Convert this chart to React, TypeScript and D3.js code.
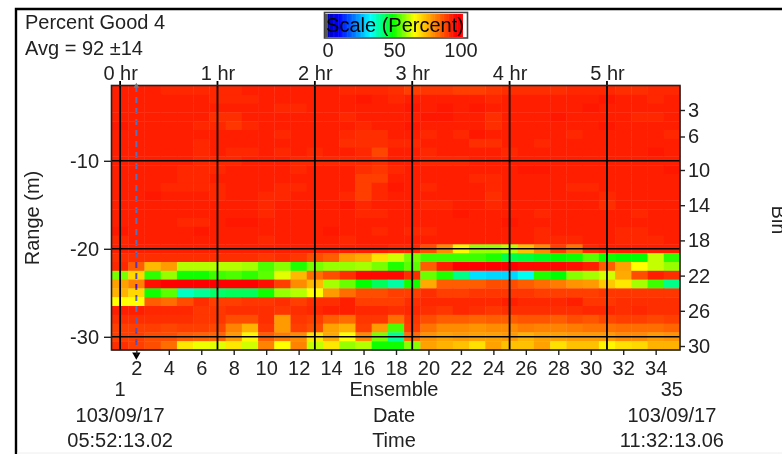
import React, { useEffect, useRef } from "react";
import { select, scaleLinear, axisBottom, axisLeft, axisRight, axisTop, range, symbol, symbolTriangle } from "d3";

// percent good per bin, ensembles 1..35
const bin1 = [96,96,96,95,95,95,95,95,96,96,96,96,96,96,95,95,95,94,92,93,93,92,92,93,94,94,94,94,95,95,95,94,94,95,95];
const bin2 = [96,96,96,96,96,96,95,95,95,96,96,96,96,96,96,97,96,95,96,96,96,96,96,95,96,96,96,96,96,96,97,96,96,95,96];
const bin3 = [96,96,96,96,96,96,96,96,96,96,95,95,96,96,96,96,96,96,97,96,97,96,97,96,96,96,96,96,96,97,96,96,96,96,96];
const bin4 = [96,96,96,96,96,96,94,94,96,96,96,96,96,96,95,96,96,96,96,97,97,96,96,94,96,96,96,97,96,96,96,96,95,95,96];
const bin5 = [97,96,96,96,96,95,95,93,95,96,96,96,96,96,96,95,96,96,97,96,96,96,96,94,96,96,96,96,96,96,97,96,96,96,96];
const bin6 = [96,96,96,96,96,96,96,96,96,96,95,96,96,96,95,94,94,96,96,95,96,95,97,96,96,96,96,96,95,96,96,96,96,96,95];
const bin7 = [96,96,96,96,96,95,96,96,96,96,96,96,96,96,94,94,94,95,95,96,96,96,94,94,96,96,95,96,96,96,96,96,96,96,96];
const bin8 = [96,96,96,96,96,95,96,95,95,96,95,96,95,96,96,95,91,96,96,95,96,96,96,96,95,96,96,96,96,96,96,96,96,97,96];
const bin9 = [96,96,96,96,96,95,95,95,96,96,96,95,95,95,95,95,94,96,96,95,95,95,96,96,96,96,96,96,96,96,96,96,96,96,96];
const bin10 = [96,96,96,96,95,95,95,96,96,96,96,95,96,96,96,94,93,95,96,96,96,96,96,96,96,97,97,96,96,96,96,96,96,96,97];
const bin11 = [96,96,96,96,95,95,96,96,96,96,96,96,96,96,96,92,92,96,96,96,96,96,95,95,96,96,96,96,96,96,96,96,96,96,96];
const bin12 = [96,96,96,95,95,95,95,96,96,96,95,95,96,96,96,92,95,97,96,95,96,96,96,95,96,96,96,96,95,95,96,96,96,96,96];
const bin13 = [96,96,97,96,96,96,95,96,96,95,95,96,96,96,95,92,95,96,96,96,96,96,96,94,96,96,96,96,96,96,95,96,96,96,96];
const bin14 = [96,96,96,96,96,96,96,96,96,95,96,96,96,96,97,95,96,96,96,95,95,96,96,95,96,96,96,96,96,96,94,96,96,96,96];
const bin15 = [96,96,96,96,96,96,96,96,96,95,96,96,96,96,96,95,95,96,96,96,96,97,96,96,96,96,95,96,96,96,96,96,95,96,96];
const bin16 = [96,96,96,96,95,95,96,97,97,96,96,96,96,96,96,96,96,96,96,96,96,96,96,96,97,96,96,96,96,96,96,96,96,96,96];
const bin17 = [97,96,96,96,96,97,96,96,96,96,96,96,96,97,96,96,95,96,95,95,96,96,96,96,96,96,95,96,96,96,96,95,95,96,96];
const bin18 = [95,96,96,96,96,96,96,96,96,95,96,96,96,96,95,96,96,96,96,96,96,96,96,96,96,96,95,95,95,96,96,95,95,95,96];
const bin19 = [96,96,96,96,96,96,96,96,96,96,96,96,96,96,96,96,96,95,95,90,82,68,60,60,62,75,82,92,85,95,96,96,96,96,96];
const bin20 = [94,94,94,94,94,94,94,94,94,93,94,93,90,88,80,78,71,64,58,54,54,54,54,52,45,46,48,50,51,56,51,50,50,63,53];
const bin21 = [95,88,76,80,62,62,62,62,61,55,59,52,58,60,60,61,58,52,56,88,96,100,100,100,100,99,99,99,98,96,88,79,67,63,60];
const bin22 = [58,72,53,60,51,51,54,55,53,56,65,76,86,90,94,99,99,99,94,57,52,41,30,29,29,34,52,50,59,61,64,78,90,96,94];
const bin23 = [79,83,98,100,100,100,100,100,100,98,92,82,76,61,57,50,44,39,51,78,88,88,88,90,90,88,86,84,81,80,74,70,61,54,41];
const bin24 = [77,72,51,56,37,40,43,44,44,51,60,62,67,80,86,90,90,92,92,94,92,92,93,93,93,93,92,92,92,92,93,93,93,93,93];
const bin25 = [67,67,88,86,90,94,92,92,93,93,94,92,94,94,96,92,92,92,94,95,95,95,95,95,96,95,95,95,96,93,93,94,94,94,94];
const bin26 = [96,96,95,95,95,93,93,94,94,94,93,94,95,96,96,95,95,94,95,94,93,95,94,93,94,94,94,94,94,95,95,94,95,94,94];
const bin27 = [94,94,94,94,94,93,93,90,90,94,80,93,92,88,86,93,93,86,93,90,88,88,87,88,88,89,89,88,90,89,91,92,92,91,92];
const bin28 = [92,92,92,91,92,92,91,83,77,93,80,92,90,79,77,92,80,55,92,85,82,82,81,82,82,84,83,83,84,85,85,86,86,86,87];
const bin29 = [92,92,90,90,88,87,87,80,68,88,84,82,70,78,67,82,58,40,86,81,79,80,79,79,80,77,79,79,80,80,80,82,82,80,81];
const bin30 = [94,92,90,86,70,66,65,70,64,83,67,83,63,70,60,62,51,51,59,79,77,75,71,79,75,75,79,71,75,75,68,71,72,77,77];
const percentGood = [bin1,bin2,bin3,bin4,bin5,bin6,bin7,bin8,bin9,bin10,bin11,bin12,bin13,bin14,bin15,bin16,bin17,bin18,bin19,bin20,bin21,bin22,bin23,bin24,bin25,bin26,bin27,bin28,bin29,bin30];

const ensembleTicks = [2,4,6,8,10,12,14,16,18,20,22,24,26,28,30,32,34];
const binTicks = [3,6,10,14,18,22,26,30];
const rangeTicks = [-10,-20,-30];
const hourTicks = [0,1,2,3,4,5];
const scaleTicks = [0,50,100];
const cursorEnsemble = 2;

const FONT = "'Liberation Sans', Arial, sans-serif";
const INK = "#222";

export default function App() {
  const ref = useRef<SVGSVGElement>(null);

  useEffect(() => {
    const svg = select(ref.current);
    svg.selectAll("*").remove();
    svg.attr("font-family", FONT).attr("font-size", 20).attr("fill", INK);

    const plot = { left: 112, right: 680, top: 86, bottom: 350 };
    const xScale = scaleLinear().domain([0.5, 35.5]).range([plot.left, plot.right]);
    const binScale = scaleLinear().domain([0.5, 30.5]).range([plot.top, plot.bottom]);
    // the bin ticks in the picture sit a little low near the top
    const binTickScale = scaleLinear().domain([3, 6, 10, 30]).range([110, 136.5, 170, 346]);
    const rangeScale = scaleLinear().domain([-1.5, -31.5]).range([plot.top, plot.bottom]);
    // 10 minutes per ensemble, starts at ensemble 1
    const hourScale = (h: number) => xScale(1 + h * 6);
    const color = scaleLinear<string>()
      .domain([0, 8, 33, 50, 67, 100])
      .range(["#0000c0", "#0000ff", "#00ffff", "#00ff00", "#ffff00", "#ff0000"])
      .clamp(true);
    const barScale = scaleLinear().domain([0, 100]).range([328, 456]);
    const barLabelScale = scaleLinear().domain([0, 100]).range([328, 461]);

    // panel frame
    svg.append("rect").attr("x", 0).attr("y", 0).attr("width", 782).attr("height", 454).attr("fill", "#fff");
    svg.append("path").attr("d", "M16,454V9H782").attr("fill", "none").attr("stroke", "#000").attr("stroke-width", 2.4);
    svg.append("line").attr("x1", 17).attr("x2", 782).attr("y1", 453).attr("y2", 453).attr("stroke", "#eee");

    // heat map
    const cw = xScale(1) - xScale(0);
    const ch = binScale(1) - binScale(0);
    const heat = svg.append("g").style("filter", "blur(0.5px)");
    percentGood.forEach((row, b) => {
      heat.append("g").selectAll("rect").data(row).join("rect")
        .attr("x", (_, i) => xScale(i + 0.5))
        .attr("y", binScale(b + 0.5))
        .attr("width", cw + 0.4)
        .attr("height", ch + 0.4)
        .attr("fill", d => color(d));
    });

    // grid
    const gridColor = "#000";
    hourTicks.forEach(h => {
      svg.append("line").attr("x1", hourScale(h)).attr("x2", hourScale(h)).attr("y1", 81).attr("y2", plot.bottom)
        .attr("stroke", gridColor).attr("stroke-width", 1.8);
    });
    rangeTicks.forEach(r => {
      svg.append("line").attr("x1", plot.left).attr("x2", plot.right).attr("y1", rangeScale(r)).attr("y2", rangeScale(r))
        .attr("stroke", gridColor).attr("stroke-width", 1.6);
    });

    svg.append("rect").attr("x", plot.left - 0.5).attr("y", plot.top - 0.5)
      .attr("width", plot.right - plot.left + 0.5).attr("height", plot.bottom - plot.top + 0.5)
      .attr("fill", "none").attr("stroke", "#222").attr("stroke-width", 1.6);

    // cursor
    const cx = xScale(cursorEnsemble);
    svg.append("line").attr("x1", cx).attr("x2", cx).attr("y1", plot.top).attr("y2", plot.bottom)
      .attr("stroke", "#a590b8").attr("stroke-width", 2).attr("stroke-dasharray", "6,5")
      .style("mix-blend-mode", "difference");
    svg.append("path").attr("d", symbol(symbolTriangle, 14)()).attr("transform", `translate(${cx},86)`).attr("fill", "#777");
    svg.append("path").attr("d", symbol(symbolTriangle, 30)()).attr("transform", `translate(${cx},355) rotate(180)`).attr("fill", "#000");

    // axes
    const styleAxis = (g: any) => {
      g.selectAll(".domain").remove();
      g.selectAll("line").attr("stroke", "#222").attr("stroke-width", 1.4);
      g.selectAll("text").attr("fill", INK).attr("font-family", FONT).attr("font-size", 20);
    };

    svg.append("g").attr("transform", `translate(0,${plot.bottom})`)
      .call(axisBottom(xScale).tickValues(ensembleTicks).tickFormat(d => String(d)).tickSize(5).tickPadding(6))
      .call(styleAxis);

    svg.append("g").attr("transform", `translate(${plot.left},0)`)
      .call(axisLeft(rangeScale).tickValues(rangeTicks).tickFormat(d => String(d)).tickSize(8).tickPadding(5))
      .call(styleAxis);

    svg.append("g").attr("transform", `translate(${plot.right},0)`)
      .call(axisRight(binTickScale).tickValues(binTicks).tickFormat(d => String(d)).tickSize(5).tickPadding(3))
      .call(styleAxis);

    const hourAxisScale = scaleLinear().domain([0, 5]).range([hourScale(0), hourScale(5)]);
    svg.append("g").attr("transform", "translate(0,86)")
      .call(axisTop(hourAxisScale).tickValues(hourTicks).tickFormat(d => `${d} hr`).tickSize(0).tickPadding(6))
      .call(styleAxis);

    // colour bar
    svg.append("rect").attr("x", 324.5).attr("y", 12.5).attr("width", 143).attr("height", 25.5)
      .attr("fill", "#fff").attr("stroke", "#444").attr("stroke-width", 1.6);
    svg.append("g").selectAll("rect").data(range(0, 105)).join("rect")
      .attr("x", d => barScale(d))
      .attr("y", 14)
      .attr("width", 1.8)
      .attr("height", 23)
      .attr("fill", d => color(d));
    svg.append("rect").attr("x", 325).attr("y", 14).attr("width", 3).attr("height", 23).attr("fill", "#555");

    const label = (txt: string, x: number, y: number, anchor = "middle") =>
      svg.append("text").attr("x", x).attr("y", y).attr("text-anchor", anchor).text(txt);

    label("Scale (Percent)", 395, 32).attr("fill", "#000");
    scaleTicks.forEach(v => label(String(v), barLabelScale(v), 57));

    label("Percent Good 4", 25, 29, "start");
    label("Avg = 92 \u00b114", 25, 55, "start");

    svg.append("text").attr("transform", "translate(39,218) rotate(-90)").attr("text-anchor", "middle").text("Range (m)");
    svg.append("text").attr("transform", "translate(772,220) rotate(90)").attr("text-anchor", "middle").text("Bin");

    const first = xScale(1);
    const last = xScale(35);
    const mid = 394;
    label("1", first, 396);
    label("Ensemble", mid, 396);
    label("35", last, 396);
    label("103/09/17", first, 422);
    label("Date", mid, 422);
    label("103/09/17", last, 422);
    label("05:52:13.02", first, 447);
    label("Time", mid, 447);
    label("11:32:13.06", last, 447);
  }, []);

  return (
    <svg ref={ref} width={782} height={454} style={{ position: "absolute", left: 0, top: 0, display: "block" }} />
  );
}
